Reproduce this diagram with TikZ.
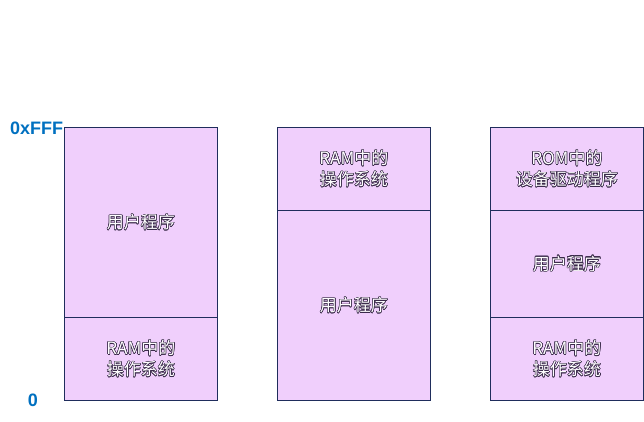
\documentclass[tikz,border=0pt]{standalone}
\usepackage{fontspec}
\setmainfont{Liberation Sans}
\newfontfamily\cjk{Noto Sans CJK SC}
\usepackage{contour}
\contourlength{0.5pt}
\contournumber{16}
\definecolor{memfill}{HTML}{F0CFFC}
\definecolor{memline}{HTML}{1F2D5C}
\definecolor{addr}{HTML}{0070C0}
\definecolor{txtout}{HTML}{3A2A4A}
\newcommand{\ot}[1]{\contour{txtout}{#1}}
\begin{document}
\begin{tikzpicture}[x=1pt,y=-1pt,
  region/.style={draw=memline,fill=memfill,line width=0.8pt},
  lbl/.style={font=\cjk\fontsize{17}{21}\selectfont,text=white,align=center,inner sep=0pt},
  addrlbl/.style={font=\bfseries\fontsize{18}{20}\selectfont,text=addr,inner sep=0pt}]
\useasboundingbox (0,0) rectangle (644,422);
% column 1
\node[region,minimum width=153pt,minimum height=190pt,inner sep=0pt,anchor=north west] (a1) at (64,127) {};
\node[region,minimum width=153pt,minimum height=83pt,inner sep=0pt,anchor=north west] (a2) at (64,317) {};
\node[lbl] (ta1) at (a1.center) {\ot{用户程序}};
\node[lbl] (ta2) at (a2.center) {\ot{RAM中的}\\\ot{操作系统}};
% column 2
\node[region,minimum width=153pt,minimum height=83pt,inner sep=0pt,anchor=north west] (b1) at (277,127) {};
\node[region,minimum width=153pt,minimum height=190pt,inner sep=0pt,anchor=north west] (b2) at (277,210) {};
\node[lbl] (tb1) at (b1.center) {\ot{RAM中的}\\\ot{操作系统}};
\node[lbl] (tb2) at (b2.center) {\ot{用户程序}};
% column 3
\node[region,minimum width=153pt,minimum height=83pt,inner sep=0pt,anchor=north west] (c1) at (490,127) {};
\node[region,minimum width=153pt,minimum height=107pt,inner sep=0pt,anchor=north west] (c2) at (490,210) {};
\node[region,minimum width=153pt,minimum height=83pt,inner sep=0pt,anchor=north west] (c3) at (490,317) {};
\node[lbl] (tc1) at (c1.center) {\ot{ROM中的}\\\ot{设备驱动程序}};
\node[lbl] (tc2) at (c2.center) {\ot{用户程序}};
\node[lbl] (tc3) at (c3.center) {\ot{RAM中的}\\\ot{操作系统}};
% address labels
\node[addrlbl,anchor=west] (top) at (10,128) {0xFFF};
\node[addrlbl] (bot) at (33,400) {0};
\end{tikzpicture}
\end{document}
